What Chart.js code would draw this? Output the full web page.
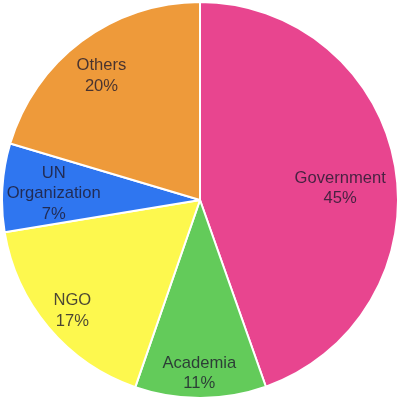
<!DOCTYPE html>
<html>
<head>
<meta charset="utf-8">
<script src="https://cdn.jsdelivr.net/npm/chart.js@4"></script>
<style>
html,body{margin:0;padding:0;background:#fff;}
#wrap{width:400px;height:400px;position:relative;}
</style>
</head>
<body>
<div id="wrap"><canvas id="c"></canvas></div>
<script>
const categories = ["Government", "Academia", "NGO", "UN Organization", "Others"];
const shares = [44.6, 10.7, 17.1, 7.2, 20.4];
const tickLabels = ["Government\n45%", "Academia\n11%", "NGO\n17%", "UN\nOrganization\n7%", "Others\n20%"];
const colors = ["#E8458F", "#63CB5A", "#FDF84E", "#2F76F0", "#EE9A3A"];

// label placement (style): radius fraction and angular nudge (degrees)
const labelRatios = [0.711, 0.868, 0.85, 0.74, 0.806];
const labelNudges = [4.4, 0.4, -0.5, -0.65, -1.4];

const sliceLabels = {
  id: 'sliceLabels',
  afterDatasetsDraw(chart) {
    const ctx = chart.ctx;
    const meta = chart.getDatasetMeta(0);
    ctx.save();
    ctx.font = '16.6px "Liberation Sans", Arial, sans-serif';
    ctx.textAlign = 'center';
    ctx.textBaseline = 'alphabetic';
    ctx.fillStyle = 'rgba(30,25,45,0.8)';
    const cap = 12;
    const lh = 20.5;
    meta.data.forEach((arc, i) => {
      const p = arc.getProps(['x','y','startAngle','endAngle','outerRadius'], true);
      const mid = (p.startAngle + p.endAngle) / 2 + labelNudges[i] * Math.PI / 180;
      const r = 197 * labelRatios[i] * (p.outerRadius / 197);
      const cx = p.x + Math.cos(mid) * r;
      const cy = p.y + Math.sin(mid) * r;
      const lines = tickLabels[i].split("\n");
      const y0 = cy - (lines.length - 1) * lh / 2 + cap / 2;
      lines.forEach((ln, k) => {
        ctx.fillText(ln, cx, y0 + k * lh);
      });
    });
    ctx.restore();
  }
};

new Chart(document.getElementById('c'), {
  type: 'pie',
  data: {
    labels: categories,
    datasets: [{
      data: shares,
      backgroundColor: colors,
      borderColor: '#ffffff',
      borderWidth: 2
    }]
  },
  options: {
    responsive: true,
    maintainAspectRatio: false,
    animation: false,
    layout: { padding: 1 },
    plugins: { legend: { display: false }, tooltip: { enabled: false } }
  },
  plugins: [sliceLabels]
});
</script>
</body>
</html>
